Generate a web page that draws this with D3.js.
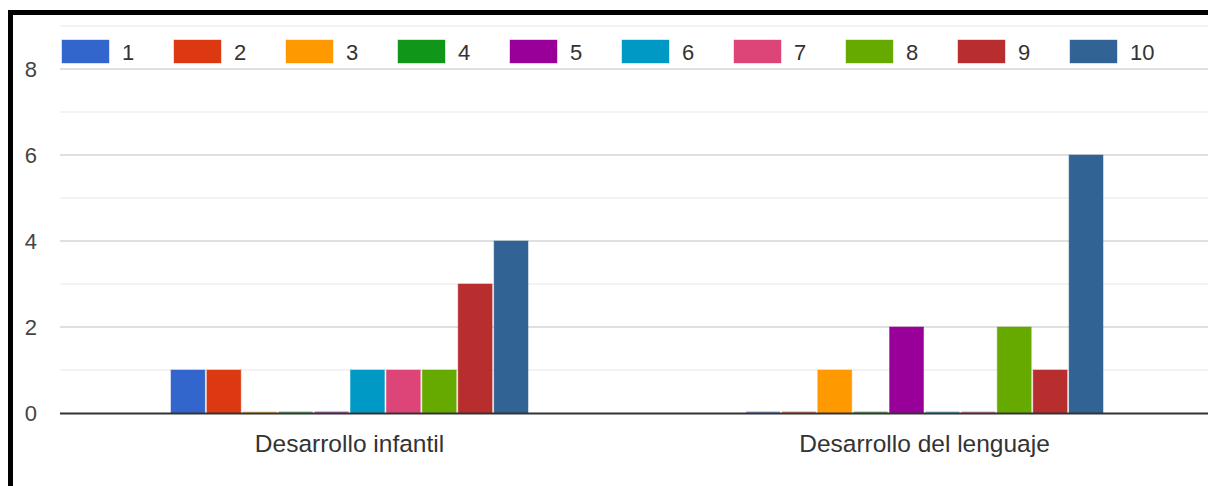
<!DOCTYPE html>
<html>
<head>
<meta charset="utf-8">
<script src="https://cdn.jsdelivr.net/npm/d3@7/dist/d3.min.js"></script>
<style>
  html, body { margin: 0; padding: 0; background: #fff; }
  svg { display: block; }
</style>
</head>
<body>
<svg id="chart" width="1208" height="486"></svg>
<script>
const categories = ["Desarrollo infantil", "Desarrollo del lenguaje"];
const seriesNames = ["1", "2", "3", "4", "5", "6", "7", "8", "9", "10"];
const seriesColors = ["#3366cc", "#dc3912", "#ff9900", "#109618", "#990099", "#0099c6", "#dd4477", "#66aa00", "#b82e2e", "#316395"];
const valuesInfantil = [1, 1, 0, 0, 0, 1, 1, 1, 3, 4];
const valuesLenguaje = [0, 0, 1, 0, 2, 0, 0, 2, 1, 6];
const majorTicks = [0, 2, 4, 6, 8];
const minorTicks = [1, 3, 5, 7, 9];

const seriesValues = [valuesInfantil, valuesLenguaje];

const svg = d3.select("#chart");
const W = 1208, H = 486;
const font = "'Liberation Sans', Arial, sans-serif";

const x0 = d3.scaleBand().domain(categories).range([62, 1212]).paddingInner(0).paddingOuter(0);
const groupWidth = 357;
const x1 = d3.scaleBand().domain(seriesNames).range([0, groupWidth]).paddingInner(0.055).paddingOuter(0);
const y = d3.scaleLinear().domain([0, 9]).range([413, 26]);

// minor gridlines
svg.append("g").selectAll("line").data(minorTicks).join("line")
  .attr("x1", 60).attr("x2", W)
  .attr("y1", d => y(d)).attr("y2", d => y(d))
  .attr("stroke", "#efefef").attr("stroke-width", 1.5);

// major gridlines
svg.append("g").selectAll("line").data(majorTicks.filter(d => d !== 0)).join("line")
  .attr("x1", 60).attr("x2", W)
  .attr("y1", d => y(d)).attr("y2", d => y(d))
  .attr("stroke", "#d6d6d6").attr("stroke-width", 1.5);

// y axis labels
const yAxis = d3.axisLeft(y).tickValues(majorTicks).tickSize(0).tickPadding(0).tickFormat(d3.format("d"));
const yg = svg.append("g").attr("transform", "translate(37,0)").call(yAxis);
yg.select(".domain").remove();
yg.selectAll("text").attr("font-family", font).attr("font-size", 22).attr("fill", "#444").attr("dy", "0.35em");

// bars
const groups = svg.append("g").selectAll("g").data(categories).join("g")
  .attr("transform", d => `translate(${x0(d) + (x0.bandwidth() - groupWidth) / 2},0)`);

groups.selectAll("rect").data((c, i) => seriesNames.map((s, j) => ({ s, v: seriesValues[i][j], color: seriesColors[j] })))
  .join("rect")
  .attr("x", d => x1(d.s))
  .attr("width", x1.bandwidth())
  .attr("y", d => d.v === 0 ? y(0) - 1.5 : y(d.v))
  .attr("height", d => d.v === 0 ? 1.5 : y(0) - y(d.v))
  .attr("fill", d => d.color)
  .attr("fill-opacity", d => d.v === 0 ? 0.6 : 1)
  .attr("stroke", d => d.v === 0 ? "none" : d.color)
  .attr("stroke-opacity", 0.5)
  .attr("stroke-width", 1);

// baseline
svg.append("line").attr("x1", 60).attr("x2", W).attr("y1", y(0) + 0.5).attr("y2", y(0) + 0.5)
  .attr("stroke", "#333").attr("stroke-width", 2);

// x axis labels
const xAxis = d3.axisBottom(x0).tickSize(0).tickPadding(0);
const xg = svg.append("g").attr("transform", "translate(0,443)").call(xAxis);
xg.select(".domain").remove();
xg.selectAll("text").attr("font-family", font).attr("font-size", 24.5).attr("fill", "#333").attr("dy", "0.35em");

// legend
const legend = svg.append("g").selectAll("g").data(seriesNames).join("g")
  .attr("transform", (d, i) => `translate(${62 + i * 112},40)`);
legend.append("rect").attr("width", 47).attr("height", 23)
  .attr("fill", (d, i) => seriesColors[i])
  .attr("stroke", (d, i) => seriesColors[i]).attr("stroke-opacity", 0.4).attr("stroke-width", 1);
legend.append("text").attr("x", 60).attr("y", 12).attr("dy", "0.35em")
  .attr("font-family", font).attr("font-size", 22).attr("fill", "#333").text(d => d);

// black frame (top and left)
svg.append("rect").attr("x", 8).attr("y", 10).attr("width", W).attr("height", 5).attr("fill", "#000");
svg.append("rect").attr("x", 8).attr("y", 10).attr("width", 5).attr("height", H).attr("fill", "#000");
</script>
</body>
</html>
